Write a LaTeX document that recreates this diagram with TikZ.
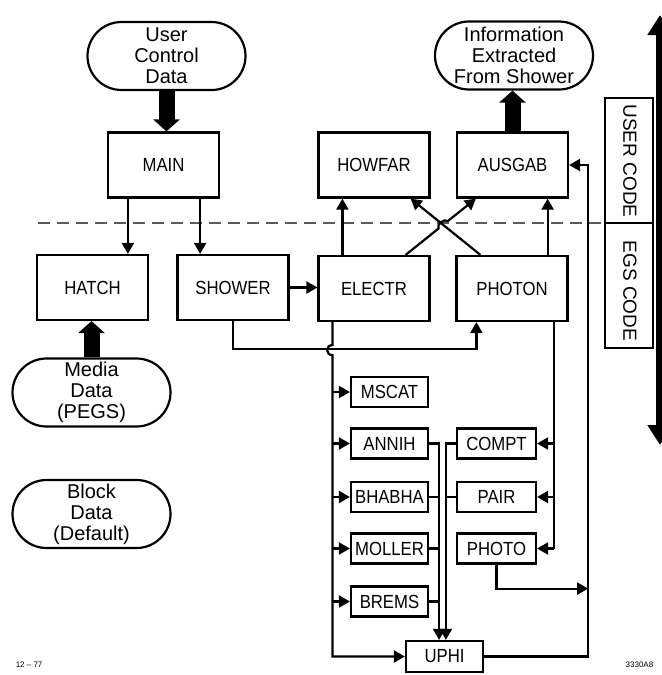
\documentclass[tikz,border=0pt]{standalone}
\usepackage{fontspec}
\setmainfont{Liberation Sans}
\newfontfamily\boxfont[FakeStretch=0.88]{Liberation Sans}
\usetikzlibrary{arrows.meta,calc,positioning}

\begin{document}
\begin{tikzpicture}[x=0.5pt, y=-0.5pt, line width=1.1pt,
    >={Triangle[length=5.5pt,width=6pt]},
    box/.style={draw, minimum width=55.5pt, minimum height=32.5pt, inner sep=0pt,
      font=\boxfont\fontsize{9.5}{10}\selectfont},
    smallbox/.style={box, minimum width=38.5pt, minimum height=15pt},
    pill/.style={draw, rounded corners=17pt, minimum width=79pt, minimum height=34pt,
      inner sep=0pt, align=center, font=\fontsize{10}{10.5}\selectfont},
    fatarrow/.style={line width=8pt, -{Triangle[length=6pt,width=13pt]}},
    codetext/.style={rotate=-90, font=\fontsize{9.5}{10}\selectfont}]
    \useasboundingbox (0,0) rectangle (662,675);

    % 上部 (用户代码)
    \node[pill] (userdata) at (166.5,56) {User\\Control\\Data};
    \node[pill] (info) at (514,55.5) {Information\\Extracted\\From Shower};
    \node[box] (main) at (163.5,165) {MAIN};
    \node[box] (howfar) at (374,165) {HOWFAR};
    \node[box] (ausgab) at (512.5,165) {AUSGAB};

    % 下部 (EGS 代码)
    \node[box] (hatch) at (92.5,287.5) {HATCH};
    \node[box] (shower) at (233,287.5) {SHOWER};
    \node[box] (electr) at (374,288.5) {ELECTR};
    \node[box] (photon) at (512,288.5) {PHOTON};
    \node[pill] (media) at (91.5,392.5) {Media\\Data\\(PEGS)};
    \node[pill] (blockdata) at (91.5,514) {Block\\Data\\(Default)};

    % 子程序
    \node[smallbox] (mscat) at (389.5,392) {MSCAT};
    \node[smallbox] (annih) at (389.5,443.5) {ANNIH};
    \node[smallbox] (bhabha) at (389.5,497) {BHABHA};
    \node[smallbox] (moller) at (389.5,548.5) {MOLLER};
    \node[smallbox] (brems) at (389.5,601.5) {BREMS};
    \node[smallbox, minimum width=39.5pt] (compt) at (496.5,443.5) {COMPT};
    \node[smallbox, minimum width=39.5pt] (pair) at (496.5,497) {PAIR};
    \node[smallbox, minimum width=39.5pt] (photo) at (496.5,548.5) {PHOTO};
    \node[smallbox, minimum height=15.5pt] (uphi) at (444.5,656.5) {UPHI};

    % 右侧分区框
    \node[draw, minimum width=24pt, minimum height=125pt, inner sep=0pt] (codebox) at (629,223) {};
    \draw (codebox.west) -- (codebox.east);
    \node[codetext] (usercode) at (630,161) {USER CODE};
    \node[codetext] (egscode) at (630,291) {EGS CODE};

    % 分界虚线
    \coordinate (dl) at (38,223);
    \draw[black!65, line width=0.8pt, dash pattern=on 6pt off 3.5pt] (dl) -- (codebox.west);

    % 粗箭头
    \draw[fatarrow] (userdata.south) -- (userdata.south |- main.north);
    \draw[fatarrow] (media.north) -- (media.north |- hatch.south);
    \draw[fatarrow] (ausgab.north) -- (ausgab.north |- info.south);
    \coordinate (bigtop) at (660,15);
    \coordinate (bigbot) at (660,445);
    \draw[line width=4.5pt, {Triangle[length=10pt,width=12pt]}-{Triangle[length=10pt,width=12pt]}] (bigtop) -- (bigbot);

    % MAIN 的调用
    \coordinate (m1) at ($(main.south west)+(21,0)$);
    \coordinate (m2) at ($(main.south east)+(-20,0)$);
    \draw[->] (m1) -- (m1 |- hatch.north);
    \draw[->] (m2) -- (m2 |- shower.north);
    \draw[->] (shower.east) -- (shower.east -| electr.west);

    % 向上的箭头 (交叉处跳线)
    \coordinate (e1) at ($(electr.north west)+(25,0)$);
    \coordinate (p2) at ($(photon.north east)+(-21,0)$);
    \draw[->] (e1) -- (e1 |- howfar.south);
    \draw[->] (p2) -- (p2 |- ausgab.south);
    \coordinate (ea) at ($(electr.north east)+(-25,0)$);
    \coordinate (eb) at ($(ausgab.south west)+(20,0)$);
    \coordinate (pa) at ($(photon.north west)+(25,0)$);
    \coordinate (pb) at ($(howfar.south east)+(-20,0)$);
    \coordinate (kx) at (intersection of ea--eb and pa--pb);
    \draw[->] (pa) -- (pb);
    \draw[->] (ea) -- ($(kx)!3pt!(ea)$) to[bend left=80] ($(kx)!3pt!(eb)$) -- (eb);

    % SHOWER -> PHOTON
    \coordinate (p1) at ($(photon.south west)+(21,0)$);
    \draw[->] (shower.south) -- ++(0,28) -| (p1);

    % ELECTR 的调用
    \coordinate (e2) at ($(electr.south west)+(15,0)$);
    \draw[->] (e2) -- ($(e2)+(0,23)$) .. controls +(-7,0) and +(-7,0) .. ($(e2)+(0,33)$)
      -- (e2 |- uphi.west) -- (uphi.west);
    \foreach \b in {mscat,annih,bhabha,moller,brems}
      \draw[->] (e2 |- \b.west) -- (\b.west);

    % 汇入 UPHI
    \coordinate (c1) at ($(annih.east)+(10,0)$);
    \coordinate (c2) at ($(compt.west)+(-10,0)$);
    \draw[->] (annih.east) -- (c1) -- (c1 |- uphi.north);
    \foreach \b in {bhabha,moller,brems}
      \draw (\b.east) -- (\b.east -| c1);
    \draw[->] (compt.west) -- (c2) -- (c2 |- uphi.north);
    \draw (pair.west) -- (pair.west -| c2);

    % PHOTON 的调用
    \coordinate (p3) at ($(photon.south east)+(-15,0)$);
    \draw (p3) -- (p3 |- photo.east);
    \foreach \b in {compt,pair,photo}
      \draw[->] (p3 |- \b.east) -- (\b.east);

    % 返回 AUSGAB
    \coordinate (r1) at ($(ausgab.east)+(19,0)$);
    \draw[->] (photo.south) |- ($(r1 |- photo.south)+(0,24)$);
    \draw[->] (uphi.east) -| (r1) -- (ausgab.east);

    % 角注
    \node[font=\fontsize{4}{4}\selectfont, anchor=west] (datelabel) at (8,665) {12 -- 77};
    \node[font=\fontsize{4}{4}\selectfont, anchor=east] (figno) at (661,665) {3330A8};
\end{tikzpicture}
\end{document}
